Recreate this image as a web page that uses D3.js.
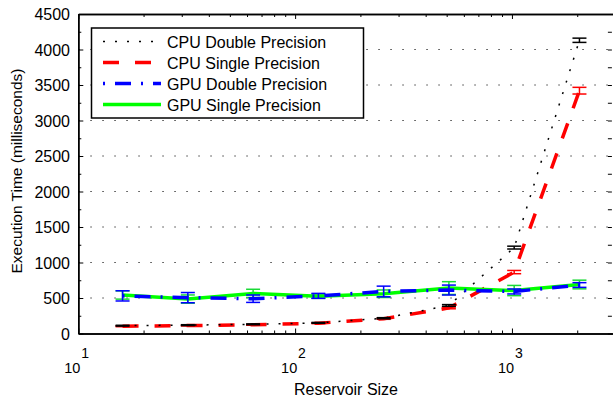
<!DOCTYPE html>
<html>
<head>
<meta charset="utf-8">
<script src="https://cdn.jsdelivr.net/npm/d3@7"></script>
<style>
  body { margin: 0; background: #fff; }
  svg { font-family: "Liberation Sans", Arial, sans-serif; }
  .axis path { stroke: #000; stroke-width: 1.5; }
  .axis line { stroke: #000; stroke-width: 1; }
</style>
</head>
<body>
<svg id="chart" width="613" height="396"></svg>
<script>
// reservoir sizes on the x axis
var sizes = [16, 32, 64, 128, 256, 512, 1024, 2048];

// execution time (ms) + error bars
var cpuDouble    = [110, 118, 130, 150, 215, 395, 1210, 4130];
var cpuDoubleErr = [6, 6, 6, 6, 8, 12, 20, 30];
var cpuSingle    = [102, 112, 122, 145, 208, 360, 865, 3420];
var cpuSingleErr = [6, 6, 6, 6, 8, 12, 23, 47];
var gpuDouble    = [530, 505, 490, 530, 592, 612, 592, 683];
var gpuDoubleErr = [72, 72, 52, 35, 75, 70, 35, 33];
var gpuSingle    = [542, 485, 565, 525, 560, 640, 605, 690];
var gpuSingleErr = [58, 58, 58, 30, 53, 90, 72, 61];

var seriesNames = ["CPU Double Precision", "CPU Single Precision", "GPU Double Precision", "GPU Single Precision"];
var yTicks = [0, 500, 1000, 1500, 2000, 2500, 3000, 3500, 4000, 4500];
var xDecades = [10, 100, 1000];

var svg = d3.select("#chart");
var mLeft = 78.3, mRight = 615.4, mTop = 14, mBottom = 333.5;

var x = d3.scaleLog().domain([10, 3000]).range([mLeft, mRight]);
var y = d3.scaleLinear().domain([0, 4500]).range([mBottom, mTop]);

// horizontal dotted grid
svg.append("g").selectAll("line")
   .data(yTicks.slice(1, -1))
   .enter().append("line")
   .attr("x1", mLeft).attr("x2", mRight)
   .attr("y1", function(d) { return y(d); })
   .attr("y2", function(d) { return y(d); })
   .attr("stroke", "#444")
   .attr("stroke-width", 1)
   .attr("stroke-dasharray", "1.5,10.5");

// minor x ticks
var xMinor = [];
[10, 100, 1000].forEach(function(b) {
   for (var k = 2; k <= 9; k++) { if (b * k < 3000) xMinor.push(b * k); }
});
var yMinor = d3.range(250, 4500, 500);

svg.append("g").attr("class", "axis")
   .attr("transform", "translate(0," + mBottom + ")")
   .call(d3.axisBottom(x).tickValues(xDecades).tickSize(-5).tickFormat("").tickSizeOuter(0));
svg.append("g").attr("class", "axis")
   .attr("transform", "translate(0," + mBottom + ")")
   .call(d3.axisBottom(x).tickValues(xMinor).tickSize(-3).tickFormat("").tickSizeOuter(0));
svg.append("g").attr("class", "axis")
   .attr("transform", "translate(0," + mTop + ")")
   .call(d3.axisTop(x).tickValues(xDecades).tickSize(-5).tickFormat("").tickSizeOuter(0));
svg.append("g").attr("class", "axis")
   .attr("transform", "translate(0," + mTop + ")")
   .call(d3.axisTop(x).tickValues(xMinor).tickSize(-3).tickFormat("").tickSizeOuter(0));

svg.append("g").attr("class", "axis")
   .attr("transform", "translate(" + mLeft + ",0)")
   .call(d3.axisLeft(y).tickValues(yTicks).tickSize(-5).tickFormat("").tickSizeOuter(0));
svg.append("g").attr("class", "axis")
   .attr("transform", "translate(" + mLeft + ",0)")
   .call(d3.axisLeft(y).tickValues(yMinor).tickSize(-3).tickFormat("").tickSizeOuter(0));
svg.append("g").attr("class", "axis")
   .attr("transform", "translate(" + (mRight - 3.5) + ",0)")
   .call(d3.axisRight(y).tickValues(yTicks.concat(yMinor)).tickSize(-4).tickFormat("").tickSizeOuter(0))
   .select(".domain").remove();

// y labels
svg.append("g").selectAll("text")
   .data(yTicks)
   .enter().append("text")
   .attr("x", 70)
   .attr("y", function(d) { return y(d) + 6; })
   .attr("text-anchor", "end")
   .attr("font-size", 16)
   .text(function(d) { return d; });

// x labels as 10 with superscript exponent
var xl = svg.append("g").selectAll("g")
   .data(xDecades)
   .enter().append("g")
   .attr("transform", function(d) { return "translate(" + x(d) + ",0)"; });
xl.append("text")
   .attr("x", -14).attr("y", 372.5)
   .attr("font-size", 14.5)
   .text("10");
xl.append("text")
   .attr("x", 3).attr("y", 358)
   .attr("font-size", 14)
   .text(function(d) { return Math.round(Math.log10(d)); });

svg.append("text")
   .attr("x", 346).attr("y", 394.5)
   .attr("text-anchor", "middle")
   .attr("font-size", 16)
   .text("Reservoir Size");

svg.append("text")
   .attr("transform", "translate(22,171) rotate(-90)")
   .attr("text-anchor", "middle")
   .attr("font-size", 15.5)
   .text("Execution Time (milliseconds)");

var styles = [
   { vals: cpuSingle, err: cpuSingleErr, color: "#ff0000", bar: "#ff0000", width: 3.5, dash: "16,16" },
   { vals: cpuDouble, err: cpuDoubleErr, color: "#000000", bar: "#000000", width: 1.5, dash: "2,10" },
   { vals: gpuSingle, err: gpuSingleErr, color: "#00ff00", bar: "#19d936", width: 3.5, dash: null },
   { vals: gpuDouble, err: gpuDoubleErr, color: "#0000ff", bar: "#0000ff", width: 3.5, dash: "2,10,16,10" }
];

var line = d3.line()
   .x(function(d) { return x(d[0]); })
   .y(function(d) { return y(d[1]); });

var plot = svg.append("g");
styles.forEach(function(s) {
   var pts = sizes.map(function(v, i) { return [v, s.vals[i], s.err[i]]; });
   plot.append("path")
      .datum(pts)
      .attr("d", line)
      .attr("fill", "none")
      .attr("stroke", s.color)
      .attr("stroke-width", s.width)
      .attr("stroke-dasharray", s.dash);
   var eb = plot.append("g").selectAll("g")
      .data(pts)
      .enter().append("g")
      .attr("stroke", s.bar)
      .attr("stroke-width", 1.5);
   eb.append("line")
      .attr("x1", function(d) { return x(d[0]); })
      .attr("x2", function(d) { return x(d[0]); })
      .attr("y1", function(d) { return y(d[1] - d[2]); })
      .attr("y2", function(d) { return y(d[1] + d[2]); });
   [-1, 1].forEach(function(sg) {
      eb.append("line")
         .attr("x1", function(d) { return x(d[0]) - 7; })
         .attr("x2", function(d) { return x(d[0]) + 7; })
         .attr("y1", function(d) { return y(d[1] + sg * d[2]); })
         .attr("y2", function(d) { return y(d[1] + sg * d[2]); });
   });
});

// legend
var legend = svg.append("g");
legend.append("rect")
   .attr("x", 91.5).attr("y", 28)
   .attr("width", 272).attr("height", 90)
   .attr("fill", "#fff")
   .attr("stroke", "#000")
   .attr("stroke-width", 1.5);
var order = [1, 0, 3, 2];
seriesNames.forEach(function(name, i) {
   var s = styles[order[i]];
   var ly = 41.5 + i * 21;
   legend.append("line")
      .attr("x1", 103).attr("x2", 161)
      .attr("y1", ly).attr("y2", ly)
      .attr("stroke", s.color)
      .attr("stroke-width", s.width)
      .attr("stroke-dasharray", s.dash);
   legend.append("text")
      .attr("x", 167).attr("y", ly + 6)
      .attr("font-size", 16)
      .text(name);
});
</script>
</body>
</html>
